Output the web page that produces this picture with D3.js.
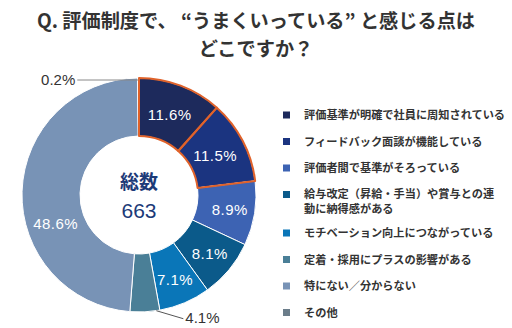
<!DOCTYPE html>
<html><head><meta charset="utf-8">
<script src="https://cdn.jsdelivr.net/npm/d3@7"></script>
<style>
html,body{margin:0;padding:0;background:#fff;}
svg{display:block;}
</style></head>
<body>
<svg id="c" width="512" height="328"></svg>
<script>
const titleLines = ["Q. 評価制度で、 “うまくいっている” と感じる点は", "どこですか？"];
const categories = [
  "評価基準が明確で社員に周知されている",
  "フィードバック面談が機能している",
  "評価者間で基準がそろっている",
  "給与改定（昇給・手当）や賞与との連|動に納得感がある",
  "モチベーション向上につながっている",
  "定着・採用にプラスの影響がある",
  "特にない／分からない",
  "その他"
];
const values = [11.6, 11.5, 8.9, 8.1, 7.1, 4.1, 48.6, 0.2];
const colors = ["#1d2a5c", "#1b3480", "#3d63b3", "#0b5a8a", "#0a76b8", "#4a7f97", "#7893b6", "#6b7d8a"];
const highlighted = [true, true, false, false, false, false, false, false];
const totalLabel = "総数";
const totalValue = "663";

const svg = d3.select("#c");
const fontJP = "'Noto Sans CJK JP','Noto Sans',sans-serif";
const fontNum = "'Liberation Sans',Arial,sans-serif";

// Title
svg.append("g").selectAll("text").data(titleLines).join("text")
  .attr("x", 256).attr("y", (d, i) => 28 + i * 28)
  .attr("text-anchor", "middle")
  .attr("font-family", fontJP).attr("font-weight", 700)
  .attr("font-size", 19.2).attr("fill", "#333")
  .text(d => d);

// Donut
const cx = 139, cy = 195, R = 117, r = 59;
const pie = d3.pie().sort(null).value(d => d.v);
const data = values.map((v, i) => ({v, i}));
const arcs = pie(data);
const arc = d3.arc().innerRadius(r).outerRadius(R);
const g = svg.append("g").attr("transform", `translate(${cx},${cy})`);

g.selectAll("path.s").data(arcs).join("path").attr("class", "s")
  .attr("d", arc).attr("fill", d => colors[d.data.i])
  .attr("stroke", "#fff").attr("stroke-width", 1);

g.selectAll("path.h").data(arcs.filter(d => highlighted[d.data.i])).join("path").attr("class", "h")
  .attr("d", arc).attr("fill", "none")
  .attr("stroke", "#e0622a").attr("stroke-width", 2).attr("stroke-linejoin", "round");

// inside labels
const inside = arcs.filter(d => d.data.v >= 5);
g.selectAll("text.p").data(inside).join("text").attr("class", "p")
  .attr("transform", d => {
    let a = (d.startAngle + d.endAngle) / 2;
    if (d.data.v > 40) a -= 0.36;
    const rr = d.data.v > 40 ? 88 : 86 + (a > Math.PI / 2 ? 6 : 0);
    return `translate(${rr * Math.sin(a)},${-rr * Math.cos(a)})`;
  })
  .attr("text-anchor", "middle").attr("dy", "0.36em")
  .attr("font-family", fontNum).attr("font-size", 15)
  .attr("fill", "#fff").attr("letter-spacing", 0.5)
  .text(d => d.data.v.toFixed(1) + "%");

// outside labels
const small = arcs.filter(d => d.data.v < 5);
small.forEach(d => {
  const isTop = d.endAngle > Math.PI * 1.5;
  if (isTop) {
    const a = (d.startAngle + d.endAngle) / 2;
    const px = R * Math.sin(a), py = -R * Math.cos(a) + 2;
    g.append("line").attr("x1", px).attr("y1", py).attr("x2", px - 61).attr("y2", py)
      .attr("stroke", "#888").attr("stroke-width", 1);
    g.append("text").attr("x", px - 63).attr("y", py).attr("dy", "0.36em")
      .attr("text-anchor", "end").attr("font-family", fontNum).attr("font-size", 15)
      .attr("fill", "#333").text(d.data.v.toFixed(1) + "%");
  } else {
    const a = d.startAngle + 0.03;
    const px = R * Math.sin(a), py = -R * Math.cos(a);
    g.append("line").attr("x1", px).attr("y1", py).attr("x2", px + 27).attr("y2", py + 8)
      .attr("stroke", "#555").attr("stroke-width", 1);
    g.append("text").attr("x", px + 29).attr("y", py + 8).attr("dy", "0.3em")
      .attr("text-anchor", "start").attr("font-family", fontNum).attr("font-size", 15)
      .attr("fill", "#333").text(d.data.v.toFixed(1) + "%");
  }
});

// center text
g.append("text").attr("y", -13).attr("dy", "0.36em").attr("text-anchor", "middle")
  .attr("font-family", fontJP).attr("font-weight", 700).attr("font-size", 19)
  .attr("fill", "#1c3a78").text(totalLabel);
g.append("text").attr("y", 15).attr("dy", "0.36em").attr("text-anchor", "middle")
  .attr("font-family", fontNum).attr("font-size", 21)
  .attr("fill", "#1c3a78").text(totalValue);

// Legend
const lg = svg.append("g");
let y = 115;
categories.forEach((c, i) => {
  const lines = c.split("|");
  lg.append("rect").attr("x", 283).attr("y", y - 3.5).attr("width", 7).attr("height", 7)
    .attr("fill", colors[i]);
  lines.forEach((t, j) => {
    lg.append("text").attr("x", 304).attr("y", y + j * 15 - (lines.length > 1 ? 0.5 : 0)).attr("dy", "0.36em")
      .attr("font-family", fontJP).attr("font-weight", 700).attr("font-size", 11.2)
      .attr("fill", "#333").text(t);
  });
  y += 26.5 + (lines.length - 1) * 12;
});
</script>
</body></html>
